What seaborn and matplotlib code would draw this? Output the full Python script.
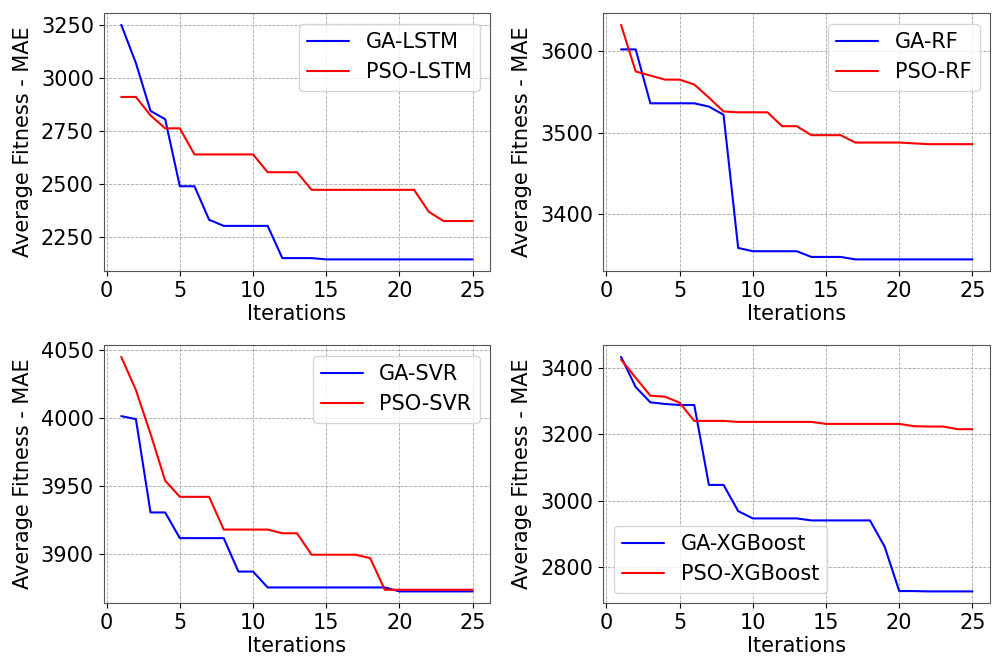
import matplotlib
matplotlib.use("Agg")
import matplotlib.pyplot as plt
import seaborn as sns
import pandas as pd

iterations = list(range(1, 26))

ga_lstm = [3250, 3070, 2844, 2805, 2489, 2489, 2331, 2302, 2302, 2302, 2302, 2150, 2150, 2150,
           2144, 2144, 2144, 2144, 2144, 2144, 2144, 2144, 2144, 2144, 2144]
pso_lstm = [2910, 2910, 2823, 2762, 2762, 2639, 2639, 2639, 2639, 2639, 2555, 2555, 2555, 2472,
            2472, 2472, 2472, 2472, 2472, 2472, 2472, 2369, 2325, 2325, 2325]

ga_rf = [3602, 3602, 3536, 3536, 3536, 3536, 3532, 3522, 3359, 3355, 3355, 3355, 3355, 3348,
         3348, 3348, 3345, 3345, 3345, 3345, 3345, 3345, 3345, 3345, 3345]
pso_rf = [3632, 3575, 3570, 3565, 3565, 3559, 3543, 3526, 3525, 3525, 3525, 3508, 3508, 3497,
          3497, 3497, 3488, 3488, 3488, 3488, 3487, 3486, 3486, 3486, 3486]

ga_svr = [4001.7, 3999.5, 3930.8, 3930.8, 3911.9, 3911.9, 3911.9, 3911.9, 3887.3, 3887.3, 3875.6,
          3875.6, 3875.6, 3875.6, 3875.6, 3875.6, 3875.6, 3875.6, 3875.6, 3872.7, 3872.7, 3872.7,
          3872.7, 3872.7, 3872.7]
pso_svr = [4045.3, 4020.9, 3988.6, 3954.2, 3942.3, 3942.3, 3942.3, 3918.2, 3918.2, 3918.2, 3918.2,
           3915.5, 3915.5, 3899.7, 3899.7, 3899.7, 3899.7, 3897.2, 3873.9, 3873.9, 3873.9, 3873.9,
           3873.9, 3873.9, 3873.9]

ga_xgb = [3433, 3342, 3296, 3291, 3288, 3288, 3047, 3047, 2968, 2946, 2946, 2946, 2946, 2940,
          2940, 2940, 2940, 2940, 2861, 2727, 2727, 2726, 2726, 2726, 2726]
pso_xgb = [3425, 3370, 3316, 3313, 3295, 3240, 3240, 3240, 3237, 3237, 3237, 3237, 3237, 3237,
           3231, 3231, 3231, 3231, 3231, 3231, 3224, 3223, 3223, 3215, 3215]

panels = [
    ("LSTM", ga_lstm, pso_lstm, "upper right"),
    ("RF", ga_rf, pso_rf, "upper right"),
    ("SVR", ga_svr, pso_svr, "upper right"),
    ("XGBoost", ga_xgb, pso_xgb, "lower left"),
]

sns.set_style("white")
plt.rcParams["font.family"] = ["DejaVu Sans"]
plt.rcParams["font.size"] = 15
plt.rcParams["text.color"] = "black"
plt.rcParams["axes.labelcolor"] = "black"
plt.rcParams["xtick.color"] = "black"
plt.rcParams["ytick.color"] = "black"

fig, axes = plt.subplots(2, 2, figsize=(9.97, 6.57), dpi=100)
plt.subplots_adjust(left=0.104, right=0.993, bottom=0.082, top=0.980, wspace=0.293, hspace=0.287)

for ax, (name, ga, pso, loc) in zip(axes.flat, panels):
    df = pd.DataFrame({
        "Iterations": iterations * 2,
        "MAE": ga + pso,
        "Model": ["GA-" + name] * 25 + ["PSO-" + name] * 25,
    })
    sns.lineplot(data=df, x="Iterations", y="MAE", hue="Model",
                 palette=["blue", "red"], linewidth=1.5, ax=ax)
    ax.set_xlabel("Iterations", fontsize=15, labelpad=2)
    ax.set_ylabel("Average Fitness - MAE", fontsize=15, labelpad=6)
    ax.set_xticks([0, 5, 10, 15, 20, 25])
    ax.tick_params(labelsize=15, left=True, bottom=True, length=3.5)
    ax.grid(True, linestyle="--", color="gray", linewidth=0.6, alpha=0.7)
    for sp in ax.spines.values():
        sp.set_color("#555555")
    ax.legend(loc=loc, fontsize=15, title=None, frameon=True)

fig.savefig("out.png", dpi=100)
